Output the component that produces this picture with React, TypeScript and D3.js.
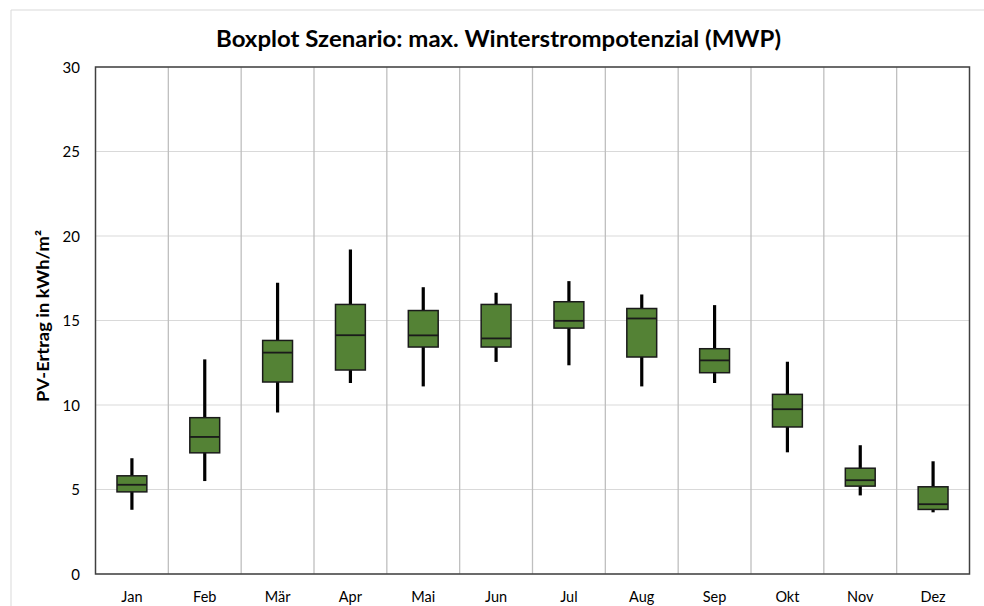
import React from 'react';
import * as d3 from 'd3';

const months = ['Jan', 'Feb', 'Mär', 'Apr', 'Mai', 'Jun', 'Jul', 'Aug', 'Sep', 'Okt', 'Nov', 'Dez'];
const minValues = [3.8, 5.5, 9.55, 11.3, 11.1, 12.55, 12.35, 11.1, 11.3, 7.2, 4.65, 3.65];
const q1Values = [4.86, 7.17, 11.36, 12.07, 13.43, 13.43, 14.55, 12.84, 11.91, 8.7, 5.2, 3.82];
const medianValues = [5.28, 8.11, 13.1, 14.13, 14.12, 13.94, 14.98, 15.12, 12.64, 9.75, 5.55, 4.13];
const q3Values = [5.81, 9.25, 13.82, 15.95, 15.59, 15.95, 16.11, 15.71, 13.33, 10.63, 6.26, 5.16];
const maxValues = [6.85, 12.7, 17.23, 19.2, 16.97, 16.64, 17.33, 16.54, 15.91, 12.56, 7.62, 6.67];
const yTicks = [0, 5, 10, 15, 20, 25, 30];

const W = 984;
const H = 606;
const plot = { left: 95.5, right: 969.5, top: 67, bottom: 574 };
const font = 'Lato, "Open Sans", sans-serif';

const App: React.FC = () => {
  const x = d3.scaleBand().domain(months).range([plot.left, plot.right]);
  const y = d3.scaleLinear().domain([0, 30]).range([plot.bottom, plot.top]);
  const boxW = x.bandwidth() * 0.41;

  return (
    <svg width={W} height={H} style={{ position: 'absolute', left: 0, top: 0 }}>
      <rect x={0} y={0} width={W} height={H} fill="#fff" />
      {/* chart area frame */}
      <line x1={11} y1={10} x2={W} y2={10} stroke="#d9d9d9" />
      <line x1={11} y1={10} x2={11} y2={H} stroke="#d9d9d9" />

      <text x={498.5} y={47} textAnchor="middle" fontFamily={font} fontWeight="bold" fontSize={22}
        textLength={565} lengthAdjust="spacingAndGlyphs" fill="#000">
        Boxplot Szenario: max. Winterstrompotenzial (MWP)
      </text>

      {/* horizontal grid */}
      {yTicks.map(t => (
        <line key={`h-${t}`} x1={plot.left} x2={plot.right} y1={y(t)} y2={y(t)} stroke="#d9d9d9" strokeWidth={1.2} />
      ))}
      {/* vertical category separators */}
      {months.slice(1).map(m => (
        <line key={`v-${m}`} x1={x(m)!} x2={x(m)!} y1={plot.top} y2={plot.bottom} stroke="#bfbfbf" strokeWidth={1.3} />
      ))}
      <rect x={plot.left} y={plot.top} width={plot.right - plot.left} height={plot.bottom - plot.top}
        fill="none" stroke="#404040" strokeWidth={1.5} />

      {yTicks.map(t => (
        <text key={`yl-${t}`} x={80} y={y(t) + 5.5} textAnchor="end" fontFamily={font} fontSize={15} fill="#000">{t}</text>
      ))}
      {months.map(m => (
        <text key={`xl-${m}`} x={x(m)! + x.bandwidth() / 2} y={602} textAnchor="middle" fontFamily={font} fontSize={14.5} fill="#000">{m}</text>
      ))}
      <text transform={`translate(49, 316) rotate(-90)`} textAnchor="middle"
        fontFamily={font} fontWeight="bold" fontSize={17} textLength={172} lengthAdjust="spacingAndGlyphs" fill="#000">
        PV-Ertrag in kWh/m²
      </text>

      {months.map((m, i) => {
        const cx = x(m)! + x.bandwidth() / 2;
        return (
          <g key={`box-${m}`}>
            <line x1={cx} x2={cx} y1={y(maxValues[i])} y2={y(minValues[i])} stroke="#000" strokeWidth={3.2} />
            <rect x={cx - boxW / 2} y={y(q3Values[i])} width={boxW} height={y(q1Values[i]) - y(q3Values[i])}
              fill="#548235" stroke="#1a1a1a" strokeWidth={1.5} />
            <line x1={cx - boxW / 2} x2={cx + boxW / 2} y1={y(medianValues[i])} y2={y(medianValues[i])}
              stroke="#1a1a1a" strokeWidth={1.8} />
          </g>
        );
      })}
    </svg>
  );
};

export default App;
